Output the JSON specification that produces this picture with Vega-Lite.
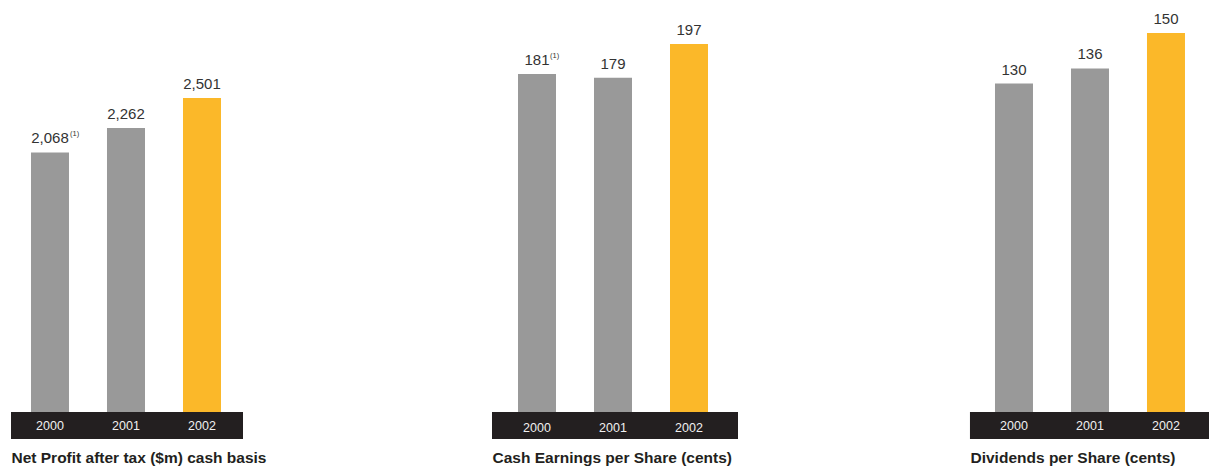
{
  "$schema": "https://vega.github.io/schema/vega-lite/v6.json",
  "autosize": {"type": "pad"},
  "padding": {"left": 11, "top": 5, "right": 0, "bottom": 0},
  "background": "white",
  "bounds": "flush",
  "spacing": 232,
  "config": {
    "view": {"stroke": null},
    "font": "Liberation Sans",
    "text": {"font": "Liberation Sans"},
    "axisX": {
      "domain": false,
      "ticks": false,
      "labels": false,
      "grid": false,
      "titleFont": "Liberation Sans",
      "titleFontSize": 15.5,
      "titleFontWeight": "bold",
      "titleColor": "#231f20",
      "titleAnchor": "start",
      "titleAlign": "left",
      "titleBaseline": "top",
      "titlePadding": 11,
      "titleLimit": 400
    },
    "axisY": {"disable": true}
  },
  "data": {
    "values": [
      {"metric": "npat", "year": "2000", "value": 2068, "note": "(1)"},
      {"metric": "npat", "year": "2001", "value": 2262, "note": ""},
      {"metric": "npat", "year": "2002", "value": 2501, "note": ""},
      {"metric": "ceps", "year": "2000", "value": 181, "note": "(1)"},
      {"metric": "ceps", "year": "2001", "value": 179, "note": ""},
      {"metric": "ceps", "year": "2002", "value": 197, "note": ""},
      {"metric": "dps", "year": "2000", "value": 130, "note": ""},
      {"metric": "dps", "year": "2001", "value": 136, "note": ""},
      {"metric": "dps", "year": "2002", "value": 150, "note": ""}
    ]
  },
  "hconcat": [
    {
      "width": 232,
      "height": 434,
      "transform": [{"filter": "datum.metric == 'npat'"}],
      "encoding": {
        "x": {"field": "year", "type": "ordinal", "scale": {"paddingInner": 0.5, "paddingOuter": 0.2763, "align": 0.476}, "axis": {"title": "Net Profit after tax ($m) cash basis", "titleX": 0}},
        "y": {"field": "value", "type": "quantitative", "scale": {"domain": [-215, 3242]}, "axis": null}
      },
      "layer": [
        {"mark": {"type": "rect", "color": "#231f20"}, "encoding": {
          "x": {"datum": "2000", "type": "ordinal", "bandPosition": -0.526},
          "x2": {"datum": "2002", "bandPosition": 1.579},
          "y": {"datum": -215, "type": "quantitative"},
          "y2": {"datum": 0}}},
        {"mark": {"type": "bar"}, "encoding": {"color": {"condition": {"test": "datum.year == '2002'", "value": "#fbb829"}, "value": "#999999"}}},
        {"mark": {"type": "text", "baseline": "bottom", "dy": -6, "fontSize": 15, "color": "#333333"}, "encoding": {"text": {"field": "value", "type": "quantitative", "format": ",d"}}},
        {"mark": {"type": "text", "baseline": "bottom", "align": "left", "dx": 20, "dy": -14, "fontSize": 7.5, "color": "#333333"}, "encoding": {"text": {"field": "note"}}},
        {"mark": {"type": "text", "baseline": "middle", "fontSize": 12.5, "color": "#f0f0f0"}, "encoding": {"y": {"datum": -111, "type": "quantitative"}, "text": {"field": "year"}}}
      ]
    },
    {
      "width": 263,
      "height": 434,
      "transform": [{"filter": "datum.metric == 'ceps'"}],
      "encoding": {
        "x": {"field": "year", "type": "ordinal", "scale": {"paddingInner": 0.5, "paddingOuter": 0.4803, "align": 0.589}, "axis": {"title": "Cash Earnings per Share (cents)", "titleX": 17}},
        "y": {"field": "value", "type": "quantitative", "scale": {"domain": [-14.45, 217.9]}, "axis": null}
      },
      "layer": [
        {"mark": {"type": "rect", "color": "#231f20"}, "encoding": {
          "x": {"datum": "2000", "type": "ordinal", "bandPosition": -0.684},
          "x2": {"datum": "2002", "bandPosition": 1.789},
          "y": {"datum": -14.45, "type": "quantitative"},
          "y2": {"datum": 0}}},
        {"mark": {"type": "bar"}, "encoding": {"color": {"condition": {"test": "datum.year == '2002'", "value": "#fbb829"}, "value": "#999999"}}},
        {"mark": {"type": "text", "baseline": "bottom", "dy": -6, "fontSize": 15, "color": "#333333"}, "encoding": {"text": {"field": "value", "type": "quantitative", "format": ",d"}}},
        {"mark": {"type": "text", "baseline": "bottom", "align": "left", "dx": 13, "dy": -14, "fontSize": 7.5, "color": "#333333"}, "encoding": {"text": {"field": "note"}}},
        {"mark": {"type": "text", "baseline": "middle", "fontSize": 12.5, "color": "#f0f0f0"}, "encoding": {"y": {"datum": -8.5, "type": "quantitative"}, "text": {"field": "year"}}}
      ]
    },
    {
      "width": 239,
      "height": 434,
      "transform": [{"filter": "datum.metric == 'dps'"}],
      "encoding": {
        "x": {"field": "year", "type": "ordinal", "scale": {"paddingInner": 0.5, "paddingOuter": 0.3224, "align": 0.51}, "axis": {"title": "Dividends per Share (cents)", "titleX": 0}},
        "y": {"field": "value", "type": "quantitative", "scale": {"domain": [-10.69, 161.1]}, "axis": null}
      },
      "layer": [
        {"mark": {"type": "rect", "color": "#231f20"}, "encoding": {
          "x": {"datum": "2000", "type": "ordinal", "bandPosition": -0.658},
          "x2": {"datum": "2002", "bandPosition": 1.632},
          "y": {"datum": -10.69, "type": "quantitative"},
          "y2": {"datum": 0}}},
        {"mark": {"type": "bar"}, "encoding": {"color": {"condition": {"test": "datum.year == '2002'", "value": "#fbb829"}, "value": "#999999"}}},
        {"mark": {"type": "text", "baseline": "bottom", "dy": -6, "fontSize": 15, "color": "#333333"}, "encoding": {"text": {"field": "value", "type": "quantitative", "format": ",d"}}},
        {"mark": {"type": "text", "baseline": "middle", "fontSize": 12.5, "color": "#f0f0f0"}, "encoding": {"y": {"datum": -5.35, "type": "quantitative"}, "text": {"field": "year"}}}
      ]
    }
  ]
}
